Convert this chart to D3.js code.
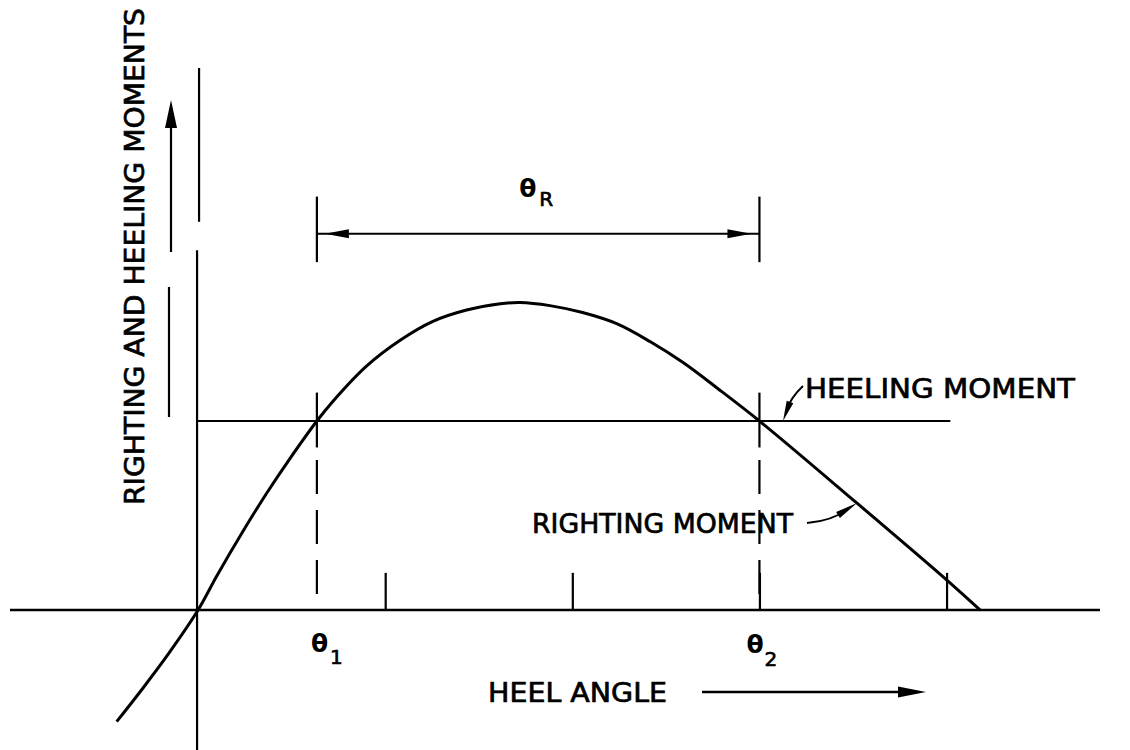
<!DOCTYPE html>
<html>
<head>
<meta charset="utf-8">
<script src="https://cdn.jsdelivr.net/npm/d3@7"></script>
<style>
  html, body { margin: 0; padding: 0; background: #fff; }
  svg { display: block; }
  text { font-family: "DejaVu Sans", sans-serif; fill: #000; }
  .lbl { stroke: #000; stroke-width: 0.7px; }
</style>
</head>
<body>
<svg id="chart" width="1130" height="750"></svg>
<script>
/* global d3 */

// heel angle (deg) and righting moment
var heelAngles = [-8.7, -5.9, -3.0, 0, 2.0, 4.8, 7.4, 9.8, 12.7, 14.4, 18.0, 21.6, 25.1, 28.7, 32.3, 34.4, 37.6, 41.1, 44.8, 48.3, 51.8, 55.5, 60.0, 70.4, 80.0, 83.6];
var rightingMoments = [-1.77, -1.24, -0.66, 0, 0.54, 1.25, 1.87, 2.40, 3.0, 3.31, 3.87, 4.28, 4.58, 4.76, 4.86, 4.88, 4.83, 4.72, 4.54, 4.26, 3.93, 3.52, 3.0, 1.70, 0.48, 0];

var heelingMoment = 3.0;
var heelingExtent = [0, 80.4];
var theta1 = 12.7;
var theta2 = 60;
var tickAngles = [20, 40, 60, 80];

var svg = d3.select("#chart");

var x = d3.scaleLinear().domain([-20.1, 96.4]).range([10, 1100]);
var y = d3.scaleLinear().domain([-2.22, 8.6]).range([750, 68]);

// simple filled arrowhead from a base point toward a tip
function arrowHead(tip, base, halfWidth) {
    var dx = tip[0] - base[0], dy = tip[1] - base[1];
    var len = Math.sqrt(dx * dx + dy * dy);
    var nx = -dy / len * halfWidth, ny = dx / len * halfWidth;
    svg.append("path")
        .attr("d", "M" + tip + "L" + [base[0] + nx, base[1] + ny] + "L" + [base[0] - nx, base[1] - ny] + "Z")
        .attr("fill", "#000");
}

function seg(x1, y1, x2, y2, w, dash) {
    var l = svg.append("line")
        .attr("x1", x1).attr("y1", y1).attr("x2", x2).attr("y2", y2)
        .attr("stroke", "#000").attr("stroke-width", w);
    if (dash) l.attr("stroke-dasharray", dash);
    return l;
}

// axes
seg(x.range()[0], y(0), x.range()[1], y(0), 2.5);
seg(x(0) + 1, y.range()[1], x(0) + 1, y(6.16), 2.2);
seg(x(0) - 1, y(5.71), x(0) - 1, y.range()[0], 2.2);

svg.append("g")
    .attr("transform", "translate(0," + y(0) + ")")
    .call(d3.axisTop(x).tickValues(tickAngles).tickSize(y(0) - y(0.59)).tickFormat(""))
    .call(function (g) {
        g.select(".domain").remove();
        g.selectAll("line").attr("stroke-width", 2.2);
    });

// heeling moment line
seg(x(heelingExtent[0]), y(heelingMoment), x(heelingExtent[1]), y(heelingMoment), 2.2);

// righting moment curve
var points = heelAngles.map(function (a, i) { return [a, rightingMoments[i]]; });
svg.append("path")
    .datum(points)
    .attr("fill", "none")
    .attr("stroke", "#000")
    .attr("stroke-width", 3)
    .attr("d", d3.line()
        .x(function (d) { return x(d[0]); })
        .y(function (d) { return y(d[1]); })
        .curve(d3.curveCatmullRom.alpha(0.5)));

// theta1 / theta2 verticals: solid cross, dashed drop, bracket on top
[theta1, theta2].forEach(function (t) {
    seg(x(t), y(heelingMoment + 0.45), x(t), y(heelingMoment - 0.42), 2.2);
    seg(x(t), y(heelingMoment - 0.62), x(t), y(0), 2.2, "34,16");
    seg(x(t), y(6.56), x(t), y(5.52), 2.2);
});

// theta R span arrow
var spanY = y(5.97);
seg(x(theta1), spanY, x(theta2), spanY, 2.2);
arrowHead([x(theta1) + 8, spanY], [x(theta1) + 32, spanY], 4.5);
arrowHead([x(theta2) - 8, spanY], [x(theta2) - 32, spanY], 4.5);

// theta labels
function thetaLabel(px, py, sub, sx, sy) {
    var t = svg.append("text").attr("font-size", 25).attr("font-weight", "bold");
    t.append("tspan").attr("x", px).attr("y", py).text("θ");
    t.append("tspan").attr("x", sx).attr("y", sy).attr("font-size", 20)
        .attr("class", "lbl").attr("font-weight", "normal").text(sub);
}
thetaLabel(x(theta1) - 6, 652, "1", x(theta1) + 13, 664);
thetaLabel(x(theta2) - 13, 653, "2", x(theta2) + 5, 666);
thetaLabel((x(theta1) + x(theta2)) / 2 - 19, 197, "R", (x(theta1) + x(theta2)) / 2 + 1, 206);

// annotations
svg.append("text").attr("class", "lbl").attr("x", 805).attr("y", 398).attr("font-size", 26)
    .attr("textLength", 270).attr("lengthAdjust", "spacingAndGlyphs")
    .text("HEELING MOMENT");
svg.append("text").attr("class", "lbl").attr("x", 532).attr("y", 533).attr("font-size", 26)
    .attr("textLength", 261).attr("lengthAdjust", "spacingAndGlyphs")
    .text("RIGHTING MOMENT");
svg.append("text").attr("class", "lbl").attr("x", 488).attr("y", 702).attr("font-size", 26)
    .attr("textLength", 179).attr("lengthAdjust", "spacingAndGlyphs")
    .text("HEEL ANGLE");
svg.append("text").attr("class", "lbl")
    .attr("transform", "translate(144,505) rotate(-90)")
    .attr("font-size", 27)
    .attr("textLength", 497).attr("lengthAdjust", "spacingAndGlyphs")
    .text("RIGHTING AND HEELING MOMENTS");

// leader lines
svg.append("path").attr("d", "M803,386 Q790,398 786,412")
    .attr("fill", "none").attr("stroke", "#000").attr("stroke-width", 2);
arrowHead([783, 421], [790, 402], 3.5);
svg.append("path").attr("d", "M807,523 Q832,521 848,509")
    .attr("fill", "none").attr("stroke", "#000").attr("stroke-width", 2);
arrowHead([857, 503], [838, 515], 3.5);

// moment arrow (upward) beside the rotated label
seg(171, 125, 171, 252, 2.2);
seg(169, 287, 169, 417, 2.2);
arrowHead([171, 100], [171, 128], 6);

// heel angle arrow (rightward)
seg(702, 692, 905, 692, 2.5);
arrowHead([926, 692], [898, 692], 5.5);
</script>
</body>
</html>
